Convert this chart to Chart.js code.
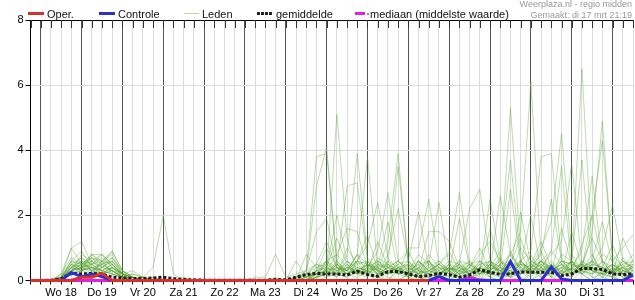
<!DOCTYPE html>
<html>
<head>
<meta charset="utf-8">
<script src="https://cdn.jsdelivr.net/npm/chart.js@4.4.0/dist/chart.umd.min.js"></script>
<style>
  html, body { margin: 0; padding: 0; background: #fff; }
  #wrap { position: relative; width: 635px; height: 300px; font-family: "Liberation Sans", Arial, sans-serif; }
  canvas { position: absolute; left: 0; top: 0; }
  .lg { position: absolute; top: 7px; font-size: 11px; line-height: 14px; color: #111; white-space: nowrap; }
  .sw { position: absolute; }
  .info { position: absolute; right: 3px; font-size: 9px; line-height: 11px; color: #999; white-space: nowrap; }
</style>
</head>
<body>
<div id="wrap">
  <canvas id="chart" width="635" height="300"></canvas>

  <div class="sw" style="left:28px;top:12px;width:16px;height:3px;background:#d6302f"></div>
  <div class="lg" style="left:47px">Oper.</div>
  <div class="sw" style="left:99px;top:12px;width:16px;height:3px;background:#2f2fd0"></div>
  <div class="lg" style="left:118px">Controle</div>
  <div class="sw" style="left:184px;top:13px;width:15px;height:1px;background:#b9dba5"></div>
  <div class="lg" style="left:202px">Leden</div>
  <div class="sw" style="left:257px;top:12px;width:15px;height:3px;background:repeating-linear-gradient(to right,#222 0 3px,transparent 3px 4px)"></div>
  <div class="lg" style="left:276px">gemiddelde</div>
  <div class="sw" style="left:355px;top:12px;width:10px;height:3px;background:#e020e0"></div>
  <div class="sw" style="left:367px;top:13px;width:2px;height:2px;background:#c070c0"></div>
  <div class="lg" style="left:370px">mediaan (middelste waarde)</div>

  <div class="info" style="top:-1px">Weerplaza.nl - regio midden</div>
  <div class="info" style="top:10px">Gemaakt: di 17 mrt 21:19</div>
</div>

<script>
// time axis: every 6 hours, from di 17 18:00 to wo 1 12:00
const dayNames = ['Wo 18', 'Do 19', 'Vr 20', 'Za 21', 'Zo 22', 'Ma 23', 'Di 24',
                  'Wo 25', 'Do 26', 'Vr 27', 'Za 28', 'Zo 29', 'Ma 30', 'Di 31'];
const hours = ['00', '06', '12', '18'];
const yTicks = [0, 2, 4, 6, 8];

// mm per 6 hours
const oper = [0, 0,0,0,0, 0.1,0.1,0.22,0, 0,0,0,0, 0,0,0,0, 0,0,0,0, 0,0,0,0, 0,0,0,0, 0,0,0,0, 0,0,0,0, 0,0,0];

const controle = [0, 0,0,0,0.25, 0.12,0.2,0.12,0, 0,0,0,0, 0,0,0,0, 0,0,0,0, 0,0,0,0, 0,0,0,0, 0,0,0,0, 0,0,0,0, 0,0,0,0.12, 0,0,0,0, 0,0,0.58,0, 0,0,0.42,0.05, 0,0,0,0, 0,0,0.17];

const gemiddelde = [0, 0,0.01,0.05,0.22, 0.2,0.22,0.2,0.1, 0.08,0.06,0.06,0.08, 0.1,0.06,0.03,0.02, 0.01,0.01,0.01,0.01, 0.01,0.01,0.01,0.03, 0.02,0.1,0.18,0.22, 0.2,0.2,0.17,0.29, 0.18,0.13,0.27,0.28, 0.2,0.12,0.15,0.22, 0.18,0.1,0.17,0.33, 0.25,0.19,0.2,0.27, 0.25,0.25,0.25,0.15, 0.2,0.37,0.37,0.34, 0.2,0.18,0.2];

const mediaan = [0, 0,0,0,0, 0,0,0,0, 0,0,0,0, 0,0,0,0, 0,0,0,0, 0,0,0,0, 0,0,0,0, 0,0,0,0, 0,0,0,0, 0,0,0,0, 0,0,0.1,0.02, 0,0,0,0, 0,0,0,0, 0,0,0,0, 0,0,0];

const leden = [
  [0, 0,0,0.1,1.0, 1.2,0.5,0.3,0.4, 0.1,0,0,0, 0,0,0,0, 0,0,0,0, 0,0,0,0, 0,0.1,0.3,3.8, 3.9,0.6,0.2,0.1, 0.3,0.1,0,0.4, 0.2,0.1,0,0, 0,0.3,0.1,0, 0.5,0.2,0.1,0, 0.2,0.6,0.1,0, 0,0.3,0.8,0.2, 0.1,0,0.3],
  [0, 0,0,0.2,0.7, 0.5,0.8,0.6,0.3, 0.1,0.1,0,0, 0,0,0,0, 0,0,0,0, 0,0,0,0, 0,0,0.2,2.9, 4.1,0.5,0.3,0.8, 0.2,0,0.5,0.3, 0.1,0,0.2,0.6, 0.3,0.1,0,0.4, 0.2,0.1,0.9,0.3, 0,0.2,0.4,0.1, 0.6,0.2,0,0.1, 0.4,0.2,0],
  [0, 0,0,0,0.4, 0.6,0.3,0.5,0.9, 0.3,0.1,0,0, 0,0,0,0, 0,0,0,0, 0,0,0,0.1, 0,0,0,0.2, 0.3,5.1,1.3,0.2, 0.1,0.6,0.3,0, 0.2,0.4,0.1,0, 0.3,0,0.2,0.5, 0.1,0,0.3,0.2, 0.8,0.1,0,0.3, 0.2,0.5,0.1,0, 0.3,0.1,0.2],
  [0, 0,0,0.1,0.3, 0.4,0.6,0.8,0.5, 0.2,0,0.1,0, 0,0,0,0, 0,0,0,0, 0,0,0,0, 0,0.1,0.2,0.5, 1.2,0.4,2.9,3.0, 0.6,0.2,0,0.3, 0.5,0.1,0,0.2, 0.1,0.4,0.2,0, 0.3,0.7,0.2,0.1, 0,0.3,0.5,0.2, 0.1,0.4,1.5,4.9, 0.6,0.2,0.4],
  [0, 0,0,0,0.5, 0.3,0.4,0.2,0.3, 0.1,0.2,0.1,0, 0,0,0,0, 0,0,0,0, 0,0,0,0, 0,0,0,0.1, 0.4,0.2,0.8,3.9, 0.7,0.3,0.1,0, 0.2,0.6,0.2,0.1, 0,0.2,0.5,0.3, 0.1,0,0.2,0.4, 0.3,0.9,0.2,0.6, 0.5,6.5,0.8,0.2, 0.1,0.3,0.2],
  [0, 0,0,0.1,0.6, 0.9,0.4,0.3,0.2, 0.1,0,0,0.1, 0,0,0,0, 0,0,0,0, 0,0,0,0, 0,0.1,0,0.3, 0.2,0.6,0.3,0.8, 3.8,0.4,0.2,0.5, 0.1,0,0.3,0.2, 0.4,0.1,0,0.2, 0.6,0.2,0.8,1.5, 6.1,0.7,0.3,0.1, 0.4,0.2,0,0.3, 0.1,0,0.5],
  [0, 0,0,0,0.3, 0.5,0.7,0.4,0.6, 0.2,0.1,0,0, 0,0,0,0, 0,0,0,0, 0,0,0,0, 0,0,0.2,0.4, 0.5,0.2,0.1,0.6, 1.1,2.4,0.7,0.3, 0.2,0.4,0.1,0, 0.3,0.5,0.1,0.2, 0.3,0.6,0.2,0.5, 0.4,1.0,1.8,4.5, 0.8,0.3,0.2,0.6, 0.2,0.4,0.1],
  [0, 0,0,0.1,0.4, 0.3,0.5,0.7,0.4, 0.2,0.3,0.1,0, 0,0,0,0, 0,0,0,0, 0,0,0,0, 0,0,0.1,0.2, 0.6,0.3,0.5,0.2, 0.4,0.9,2.7,0.6, 0.3,0.1,0.5,0.2, 0,0.3,0.4,0.8, 1.2,0.6,5.3,0.9, 0.2,0.4,0.1,0.3, 0.6,0.2,0.4,0.1, 0,0.3,0.2],
  [0, 0,0,0,0.2, 0.4,0.3,0.5,0.7, 0.3,0.1,0,0, 0,0,0,0, 0,0,0,0, 0,0,0,0, 0,0,0,0.1, 0.3,0.8,0.4,0.2, 0.6,0.3,1.2,3.9, 0.4,0.2,0.6,0.1, 0.5,0.2,0,0.3, 0.2,0.5,0.8,0.3, 0.1,0.4,0.9,0.5, 0.3,1.1,2.0,4.3, 0.7,0.2,0.1],
  [0, 0,0,0.1,0.5, 0.7,0.3,0.2,0.4, 0.1,0,0.1,0, 0,0,0,0, 0,0,0,0, 0,0,0,0, 0,0,0,0.3, 0.4,0.2,1.0,0.5, 0.2,0.7,0.5,3.5, 0.6,0.3,0.2,0.4, 0.1,0.3,0.6,0.2, 0.4,0.9,3.7,0.6, 0.3,0.2,0.5,0.3, 0.1,0.6,0.3,0.2, 0.8,0.4,0.3],
  [0, 0,0,0,0.3, 0.8,0.6,0.4,0.3, 0.2,0.1,0,0, 0,0,0,0, 0,0,0,0, 0,0,0,0, 0,0,0.1,0.2, 0.1,0.4,0.3,0.6, 0.5,0.2,0.8,2.2, 0.6,2.1,0.4,0.2, 0.3,0.1,0.4,0.2, 0.5,0.3,0.1,0.6, 0.9,3.8,3.9,0.7, 0.2,0.5,0.3,0.1, 0.4,0.2,0.6],
  [0, 0,0,0.1,0.3, 0.4,0.2,0.6,0.5, 0.2,0,0,0, 0,0,0,0, 0,0,0,0, 0,0,0,0, 0,0,0,0.2, 0.3,0.1,0.5,0.2, 0.4,0.6,0.3,0.2, 1.0,1.0,2.5,0.5, 0.3,0.6,0.2,0.4, 0.1,0.5,0.2,0.3, 0.6,0.4,0.8,1.2, 3.6,0.5,0.2,0.4, 0.3,0.1,0.2],
  [0, 0,0,0,0.4, 0.3,0.8,0.5,0.6, 0.3,0.1,0,0, 0,0,0,0, 0,0,0,0, 0,0,0,0, 0,0,0.1,0.3, 0.6,0.2,0.4,0.3, 0.2,0.5,0.4,0.6, 0.3,0.8,0.5,2.4, 0.4,0.2,0.3,0.1, 0.5,0.3,0.6,0.2, 0.4,0.3,0.1,0.8, 0.6,3.7,0.4,0.2, 0.3,0.5,0.1],
  [0, 0,0,0.1,0.6, 0.5,0.4,0.3,0.2, 0.1,0,0,0, 0,0,0,0, 0,0,0,0, 0,0,0,0, 0,0,0,0.1, 0.2,0.5,0.2,0.4, 0.3,0.1,0.6,0.4, 0.5,0.3,1.5,1.5, 1.2,0.4,0.2,0.6, 0.3,0.1,0.4,0.5, 0.2,0.6,0.3,0.2, 0.4,0.9,3.2,0.5, 0.2,0.6,0.3],
  [0, 0,0,0,0.3, 0.6,0.5,0.8,0.4, 0.2,0.1,0.1,0, 0,0,0,0, 0,0,0,0, 0,0,0,0, 0,0,0,0, 0.4,0.3,0.6,0.2, 0.5,0.3,0.2,0.4, 0.1,0.6,0.3,0.5, 0.8,2.7,0.5,0.3, 0.2,0.4,0.1,0.6, 0.3,0.5,0.2,0.4, 0.6,0.3,0.5,1.0, 2.3,0.6,0.4],
  [0, 0,0,0.1,0.4, 0.5,0.6,0.3,0.5, 0.1,0,0,0, 0,0,0,0, 0,0,0,0, 0,0,0,0, 0,0,0.1,0.2, 0.3,0.1,0.4,0.6, 0.2,0.4,0.5,0.3, 0.2,0.1,0.4,0.3, 0.6,0.5,2.2,2.8, 0.6,0.3,0.5,0.2, 0.4,0.8,2.5,0.6, 0.3,0.2,0.5,0.4, 0.2,0.7,0.3],
  [0, 0,0,0,0.2, 0.4,0.7,0.6,0.8, 0.2,0.1,0,0.1, 0,0,0,0, 0,0,0,0, 0,0,0,0, 0,0,0,0.1, 0.2,0.4,0.3,0.2, 0.5,0.3,0.2,0.6, 0.4,0.2,0.3,0.5, 0.2,0.4,0.6,0.3, 2.5,0.6,0.4,2.1, 0.5,0.3,0.6,0.2, 0.4,0.5,0.3,0.6, 0.2,0.4,0.5],
  [0, 0,0,0.1,0.5, 0.4,0.3,0.6,0.2, 0.1,0,0,0, 0,0,0,0, 0,0,0,0, 0,0,0,0, 0,0,0,0.2, 0.5,0.3,0.2,0.4, 0.3,0.6,0.4,0.2, 0.3,0.5,0.2,0.1, 0.4,0.2,0.5,0.6, 0.3,2.6,0.8,0.4, 0.2,0.6,0.9,3.5, 0.4,0.2,0.6,0.3, 0.5,0.2,0.4],
  [0, 0,0,0,0.3, 0.5,0.4,0.5,0.3, 0.1,0.1,0,0, 0,0,0,0, 0,0,0,0, 0,0,0,0, 0,0,0.3,1.5, 1.9,0.4,0.2,0.3, 0.5,0.2,0.4,0.3, 0.2,0.6,0.3,0.2, 0.4,0.2,0.3,0.5, 0.6,0.4,0.2,0.5, 2.0,0.3,0.5,0.2, 0.6,0.4,0.3,0.2, 0.5,0.3,0.6],
  [0, 0,0,0.1,0.6, 0.4,0.5,0.2,0.4, 0.2,0,0,0, 0,0,0,0, 0,0,0,0, 0,0,0,0, 0,0,0,0.4, 0.6,0.8,1.6,1.5, 0.4,0.3,0.6,0.2, 0.3,0.2,0.5,0.4, 0.2,0.5,0.3,0.4, 0.6,0.2,0.4,0.3, 0.5,0.3,0.2,0.6, 0.3,0.5,0.4,0.8, 0.6,1.0,1.4],
  [0, 0,0,0,0.2, 0.3,0.4,0.3,0.2, 0.1,0.2,0.1,0.4, 2.0,0.2,0,0, 0,0,0,0, 0,0,0,0, 0,0.6,0.1,0.3, 0.2,0.5,0.3,0.6, 0.4,0.2,0.3,0.5, 0.6,0.3,0.2,0.4, 0.3,0.6,0.5,0.2, 0.4,0.3,0.2,1.0, 0.6,0.4,0.3,0.5, 0.2,0.6,0.4,0.3, 0.5,0.2,0.3],
  [0, 0,0,0.1,0.4, 0.6,0.3,0.4,0.6, 0.1,0,0,0, 0,0,0.1,0, 0,0,0,0, 0,0.1,0.1,0.8, 0.1,0.2,0.3,0.5, 0.4,2.0,0.6,0.3, 0.2,0.5,0.3,0.4, 0.2,0.3,0.6,0.2, 0.5,0.4,0.3,0.2, 0.3,0.5,0.6,0.4, 0.2,0.3,0.4,0.6, 0.5,0.3,0.2,0.4, 0.3,0.5,0.6],
  [0, 0,0,0.2,1.0, 0.5,0.3,0.2,0.4, 0.2,0.1,0,0, 0,0,0,0, 0,0,0,0, 0,0,0,0, 0,0,0,0.1, 0.6,0.4,0.3,0.8, 0.5,0.4,1.8,0.3, 0.2,0.4,0.6,0.3, 0.5,0.2,0.4,1.0, 0.3,0.6,0.2,0.5, 0.4,0.6,0.3,0.2, 1.5,0.4,0.6,0.3, 0.2,0.6,0.4],
  [0, 0,0,0.1,0.3, 0.4,0.5,0.6,0.9, 0.3,0.1,0,0, 0,0,0,0, 0,0,0,0, 0,0,0,0, 0,0,0.8,0.4, 0.3,0.5,0.2,0.6, 1.4,0.3,0.5,0.2, 0.4,0.6,0.3,0.5, 0.9,0.3,0.2,0.6, 0.4,0.3,0.6,0.2, 0.5,1.2,0.4,0.3, 0.6,0.2,0.5,0.4, 1.1,0.3,0.2],
  [0, 0,0,0,0.2, 0.3,0.2,0.4,0.3, 0.1,0,0,0, 0,0,0,0, 0,0,0,0, 0,0,0,0, 0,0,0,0, 0.1,0.2,0.1,0.3, 0.2,0.1,0.3,0.2, 0.1,0.2,0.1,0.3, 0.2,0.1,0.2,0.4, 0.2,0.3,0.1,0.2, 0.3,0.1,0.2,0.4, 0.2,0.3,0.1,0.2, 0.3,0.2,0.1],
  [0, 0,0,0.1,0.5, 0.3,0.6,0.4,0.7, 0.2,0,0.1,0, 0,0,0,0, 0,0,0,0, 0,0,0,0, 0,0,0.1,0.3, 0.4,1.3,0.5,0.2, 0.3,0.2,0.4,0.6, 0.9,0.3,0.2,0.5, 0.3,0.4,0.2,0.3, 1.6,0.4,0.3,0.6, 0.2,0.5,0.3,0.4, 0.3,0.5,1.3,0.6, 0.4,0.2,0.5],
  [0, 0,0,0,0.4, 0.7,0.5,0.3,0.5, 0.2,0.1,0,0, 0,0,0,0, 0,0,0,0, 0,0,0,0, 0,0,0,0.2, 0.3,0.2,0.6,0.4, 0.3,1.2,0.4,0.3, 0.5,0.2,0.4,0.6, 0.3,1.9,0.4,0.2, 0.5,0.3,0.4,0.6, 0.3,0.4,0.2,1.6, 0.5,0.3,0.6,0.4, 0.2,1.3,0.6],
  [0, 0,0,0.1,0.3, 0.5,0.7,0.5,0.3, 0.1,0,0,0, 0,0,0,0, 0,0,0,0, 0,0,0,0, 0,0,0.2,0.5, 0.3,0.4,0.2,0.5, 0.6,0.3,0.2,0.4, 0.3,0.5,0.6,0.2, 0.4,0.3,0.5,0.2, 0.6,0.4,2.8,0.5, 0.3,0.6,0.4,0.2, 0.5,0.4,2.0,0.6, 0.3,0.4,0.8],
  [0, 0,0,0,0.3, 0.4,0.8,0.8,0.5, 0.2,0.1,0,0, 0,0,0,0, 0,0,0,0, 0,0,0,0, 0,0,0,0.3, 1.0,0.4,0.2,0.3, 0.5,0.2,0.4,0.3, 0.6,0.2,0.8,0.4, 0.3,0.5,0.2,0.4, 0.3,0.2,0.5,1.3, 0.4,0.6,0.3,0.5, 0.2,0.4,0.6,1.8, 0.5,0.3,0.4],
  [0, 0,0,0.1,0.2, 0.3,0.4,0.2,0.3, 0.1,0,0,0, 0,0,0,0, 0,0,0,0, 0,0,0,0, 0,0,0,0.1, 0.2,0.3,0.4,0.2, 0.3,0.4,0.2,0.3, 0.4,0.2,0.3,0.2, 0.4,0.3,0.2,0.3, 0.2,0.4,0.3,0.2, 0.4,0.2,0.3,0.5, 0.2,0.4,0.3,0.2, 0.3,0.4,0.2]
];

// category labels: one per 6 hours
const times = ['Di 17 18'];
dayNames.concat(['Wo 1']).forEach(d => hours.forEach(h => times.push(d + ' ' + h)));
times.length = 60;

const font = { family: '"Liberation Sans", Arial, sans-serif', size: 11 };

// short black ticks hanging down from the top frame
const topTicks = {
  id: 'topTicks',
  beforeDatasetsDraw(chart) {
    const ctx = chart.ctx;
    const x = chart.scales.x;
    const top = chart.chartArea.top;
    ctx.save();
    ctx.strokeStyle = '#333';
    ctx.lineWidth = 1;
    ctx.beginPath();
    for (let i = 0; i < times.length; i++) {
      const px = Math.round(x.getPixelForValue(i)) + 0.5;
      ctx.moveTo(px, top);
      ctx.lineTo(px, top + 8);
    }
    ctx.stroke();
    ctx.restore();
  }
};

const datasets = [
  { label: 'Oper.', data: oper, borderColor: '#d6302f', borderWidth: 3, order: 0 },
  { label: 'Controle', data: controle, borderColor: '#2f2fd0', borderWidth: 3, order: 1 },
  { label: 'gemiddelde', data: gemiddelde, borderColor: '#1a1a1a', borderWidth: 3, borderDash: [3, 2], order: 2 },
  { label: 'mediaan', data: mediaan, borderColor: '#e020e0', borderWidth: 3, order: 3 }
];
leden.forEach((m, i) => {
  datasets.push({ label: 'lid ' + (i + 1), data: m, borderColor: 'rgba(80,160,40,0.38)', borderWidth: 1, order: 4 });
});
datasets.forEach(d => {
  d.pointRadius = 0;
  d.tension = 0;
  d.fill = false;
  d.clip = false;
});

new Chart(document.getElementById('chart'), {
  type: 'line',
  data: { labels: times, datasets: datasets },
  plugins: [topTicks],
  options: {
    responsive: false,
    devicePixelRatio: 1,
    animation: false,
    events: [],
    layout: { padding: { top: 20, right: 1, left: 0, bottom: 0 } },
    plugins: { legend: { display: false }, tooltip: { enabled: false } },
    scales: {
      x: {
        type: 'category',
        offset: false,
        grid: {
          color: c => (c.index % 4 === 1 ? '#555' : '#dcdcdc'),
          tickColor: '#000',
          tickLength: 4,
          offset: false
        },
        border: { color: '#000' },
        ticks: {
          autoSkip: false,
          maxRotation: 0,
          minRotation: 0,
          padding: 2,
          color: '#000',
          font: font,
          callback: (v, i) => (i % 4 === 3 && dayNames[(i - 3) / 4]) ? dayNames[(i - 3) / 4] : ''
        },
        afterFit: s => { s.height = 19.5; }
      },
      y: {
        min: 0,
        max: 8,
        afterBuildTicks: s => { s.ticks = yTicks.map(v => ({ value: v })); },
        grid: {
          color: c => (c.tick.value === 8 || c.tick.value === 0) ? '#000' : '#dcdcdc',
          tickColor: '#000',
          tickLength: 5
        },
        border: { color: '#000' },
        ticks: { padding: 2, color: '#000', font: font },
        afterFit: s => { s.width = 30.5; }
      }
    }
  }
});
</script>
</body>
</html>
